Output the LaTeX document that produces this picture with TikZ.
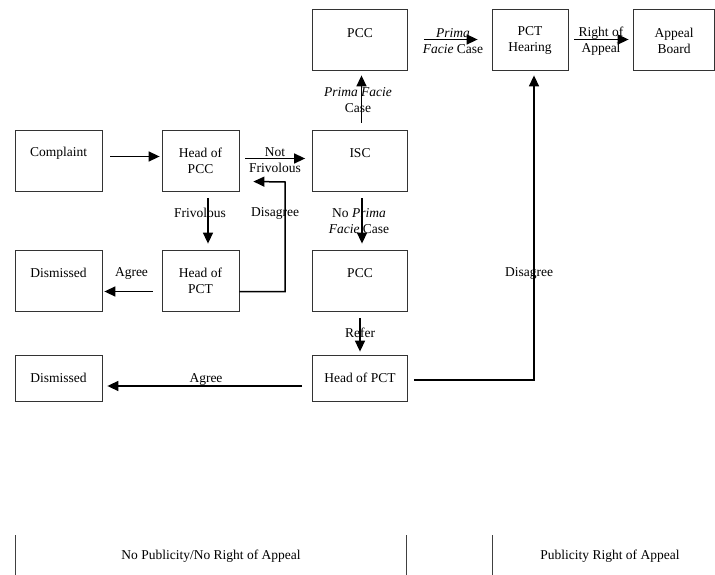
\documentclass[tikz,border=0pt]{standalone}
\usepackage{fontspec}
\setmainfont{Liberation Serif}
\usetikzlibrary{arrows.meta,calc}
\begin{document}
\begin{tikzpicture}[x=1pt,y=-1pt,
  box/.style={draw=black!80,line width=0.8pt,inner sep=0pt,minimum width=#1},
  box/.default=95,
  txt/.style={align=center,inner sep=0pt,font=\fontsize{13.5}{16}\selectfont},
  arr/.style={line width=1.5pt,-{Triangle[length=11pt,width=10pt]}},
  sep/.style={draw=black!75,line width=0.7pt}]
\useasboundingbox[fill=white] (0,0) rectangle (715,575);
% boxes
\node (cmp)   [box=87,minimum height=61] at (58.5,160.5) {};
\node (hpcc)  [box=77,minimum height=61] at (200.5,160.5) {};
\node (isc)   [box=95,minimum height=61] at (360,160.5) {};
\node (pcc1)  [box=95,minimum height=61] at (360,39.5) {};
\node (hear)  [box=76,minimum height=61] at (530,39.5) {};
\node (board) [box=81,minimum height=61] at (673.5,39.5) {};
\node (dis1)  [box=87,minimum height=61] at (58.5,280.5) {};
\node (hpct)  [box=77,minimum height=61] at (200.5,280.5) {};
\node (pcc2)  [box=95,minimum height=61] at (360,280.5) {};
\node (hpct2) [box=95,minimum height=46] at (360,378) {};
\node (dis2)  [box=87,minimum height=46] at (58.5,378) {};
% box texts
\node (tcmp)   [txt] at (58.5,153) {Complaint};
\node (thpcc)  [txt] at (200.5,160.5) {Head of\\PCC};
\node (tisc)   [txt] at (360,153) {ISC};
\node (tpcc1)  [txt] at (360,33) {PCC};
\node (thear)  [txt] at (530,40) {PCT\\Hearing};
\node (tboard) [txt] at (674,41) {Appeal\\Board};
\node (tdis1)  [txt] at (58.5,273) {Dismissed};
\node (thpct)  [txt] at (200.5,281) {Head of\\PCT};
\node (tpcc2)  [txt] at (360,273) {PCC};
\node (thpct2) [txt] at (360,378) {Head of PCT};
\node (tdis2)  [txt] at (58.5,378) {Dismissed};
% connectors
\draw[arr] ($(cmp.east)+(8,-4)$) -- ($(hpcc.west)+(-2,-4)$);
\draw[arr] ($(hpcc.east)+(6,-2)$) -- ($(isc.west)+(-7,-2)$);
\draw[arr] ($(hpcc.south)+(7.5,7)$) -- ($(hpct.north)+(7.5,-6)$);
\draw[arr] ($(hpct.east)+(0,11)$) -| (285,182) -- ($(hpcc.east)+(14,21)$);
\draw[arr] ($(hpct.west)+(-9,11)$) -- ($(dis1.east)+(2,11)$);
\draw[arr] ($(isc.north)+(1.5,-7)$) -- ($(pcc1.south)+(1.5,5)$);
\draw[arr] ($(isc.south)+(2,7)$) -- ($(pcc2.north)+(2,-6)$);
\draw[arr] ($(pcc2.south)+(0,7)$) -- ($(hpct2.north)+(0,-3)$);
\draw[arr] ($(hpct2.west)+(-10,8)$) -- ($(dis2.east)+(5,8)$);
\draw[arr] ($(hpct2.east)+(6,2)$) -| ($(hear.south)+(4,5)$);
\draw[arr] ($(pcc1.east)+(16,0)$) -- ($(hear.west)+(-14,0)$);
\draw[arr] ($(hear.east)+(6,0)$) -- ($(board.west)+(-4,0)$);
% connector labels
\node (lnf)  [txt] at (275,160) {Not\\Frivolous};
\node (lfr)  [txt] at (200,213) {Frivolous};
\node (ldis) [txt] at (275,213) {Disagree};
\node (lag1) [txt] at (131.5,273) {Agree};
\node (lpf1) [txt] at (358,100) {\textit{Prima Facie}\\Case};
\node (lnpf) [txt] at (359,221) {No \textit{Prima}\\\textit{Facie} Case};
\node (lref) [txt] at (360,333) {Refer};
\node (lag2) [txt] at (206,379) {Agree};
\node (ldis2)[txt] at (529,273) {Disagree};
\node (lpf2) [txt] at (453,41) {\textit{Prima}\\\textit{Facie} Case};
\node (lra)  [txt] at (601,41) {Right of\\Appeal};
% bottom separators
\coordinate (s1a) at (15,535); \coordinate (s1b) at (15,575);
\coordinate (s2a) at (406,535); \coordinate (s2b) at (406,575);
\coordinate (s3a) at (492,535); \coordinate (s3b) at (492,575);
\draw[sep] (s1a) -- (s1b);
\draw[sep] (s2a) -- (s2b);
\draw[sep] (s3a) -- (s3b);
\node (lnp) [txt] at (211,556) {No Publicity/No Right of Appeal};
\node (lp)  [txt] at (610,556) {Publicity Right of Appeal};
\end{tikzpicture}
\end{document}
